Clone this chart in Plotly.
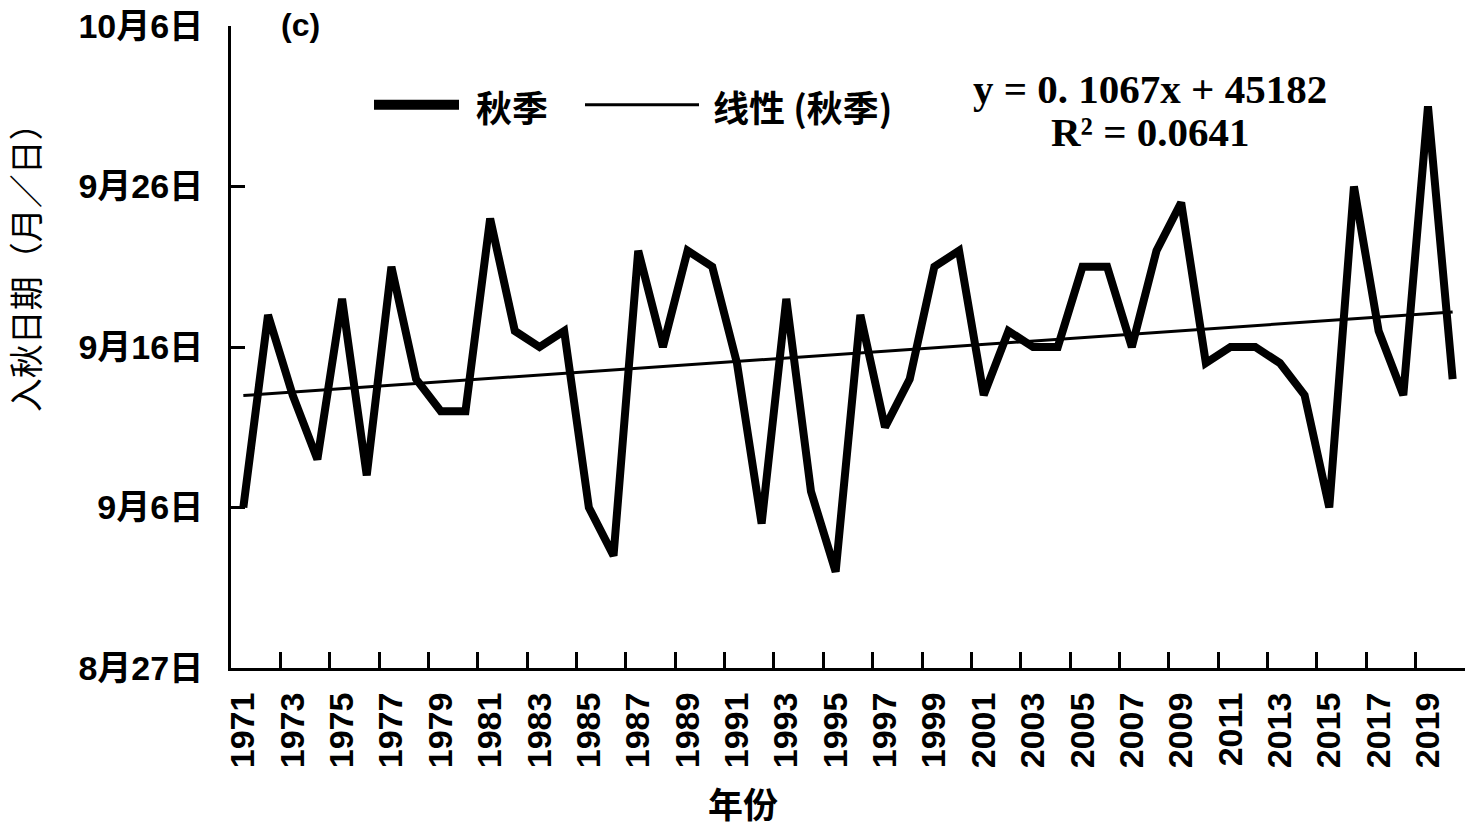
import numpy as np
import plotly.graph_objects as go

# autumn onset per year, as days after Aug 27 (10 = Sep 6, 20 = Sep 16 ...)
years = list(range(1971, 2021))
onset_days = [10, 22, 17, 13, 23, 12, 25, 18, 16, 16,
              28, 21, 20, 21, 10, 7, 26, 20, 26, 25,
              19, 9, 23, 11, 6, 22, 15, 18, 25, 26,
              17, 21, 20, 20, 25, 25, 20, 26, 29, 19,
              20, 20, 19, 17, 10, 30, 21, 17, 35, 18]

y_tickvals = [0, 10, 20, 30, 40]
y_ticktext = ["8月27日", "9月6日", "9月16日", "9月26日", "10月6日"]

eq_text = "y = 0. 1067x + 45182"
r2_text = "R² = 0.0641"

# linear trend of the series
coef = np.polyfit(years, onset_days, 1)
trend = np.polyval(coef, years)

W, H = 1472, 828
L, R, T, B = 231, 7, 24, 160


def px_x(x):
    return (x - L) / (W - L - R)


def px_y(y):
    return (H - B - y) / (H - T - B)


tick_font = dict(family="Liberation Sans, Noto Sans CJK SC", size=34, color="black", weight="bold")
cjk_bold = dict(family="Noto Sans CJK SC", size=36, color="black", weight="bold")
eq_font = dict(family="Liberation Serif", size=41, color="black", weight="bold")

fig = go.Figure()
fig.add_trace(go.Scatter(x=years, y=onset_days, mode="lines", name="秋季",
                         line=dict(color="black", width=8)))
fig.add_trace(go.Scatter(x=years, y=trend, mode="lines", name="线性 (秋季)",
                         line=dict(color="black", width=3), xaxis="x2"))

fig.update_layout(
    width=W, height=H,
    margin=dict(l=L, r=R, t=T, b=B),
    paper_bgcolor="white", plot_bgcolor="white",
    showlegend=False,
    xaxis=dict(range=[1970.5, 2020.5], tickvals=years[::2], ticks="",
               tickangle=-90, tickfont=tick_font, ticklabelstandoff=8,
               showline=True, linecolor="black", linewidth=3,
               showgrid=False, zeroline=False),
    xaxis2=dict(range=[1970.5, 2020.5], overlaying="x", side="bottom", anchor="y",
                tickvals=[1970.5 + 2 * i for i in range(26)], ticks="inside",
                ticklen=16, tickwidth=3, tickcolor="black",
                showticklabels=False, showline=False, showgrid=False, zeroline=False),
    yaxis=dict(range=[0, 40], tickvals=y_tickvals, ticktext=y_ticktext,
               ticks="inside", ticklen=14, tickwidth=3, tickcolor="black",
               tickfont=tick_font, ticklabelstandoff=18, ticklabeloverflow="allow",
               showline=True, linecolor="black", linewidth=3,
               showgrid=False, zeroline=False),
)

# hand-drawn legend, like the Excel one
legend_y = px_y(103)
fig.add_shape(type="line", xref="paper", yref="paper", x0=px_x(374), x1=px_x(459),
              y0=legend_y, y1=legend_y, line=dict(color="black", width=10))
fig.add_shape(type="line", xref="paper", yref="paper", x0=px_x(585), x1=px_x(699),
              y0=legend_y, y1=legend_y, line=dict(color="black", width=3))

annotations = [
    dict(text="秋季", x=px_x(474), y=px_y(104), xanchor="left", yanchor="middle", font=cjk_bold),
    dict(text="线性 (秋季)", x=px_x(711), y=px_y(104), xanchor="left", yanchor="middle", font=cjk_bold),
    dict(text=eq_text, x=px_x(1150), y=px_y(87), xanchor="center", yanchor="middle", font=eq_font),
    dict(text=r2_text, x=px_x(1150), y=px_y(130), xanchor="center", yanchor="middle", font=eq_font),
    dict(text="(c)", x=px_x(300), y=px_y(23), xanchor="center", yanchor="middle",
         font=dict(family="Liberation Sans", size=32, color="black", weight="bold")),
    dict(text="入秋日期（月／日）", x=px_x(24), y=px_y(258), xanchor="center", yanchor="middle",
         textangle=-90, font=dict(family="Noto Sans CJK SC", size=34, color="black")),
    dict(text="年份", x=px_x(743), y=px_y(803), xanchor="center", yanchor="middle",
         font=dict(family="Noto Sans CJK SC", size=35, color="black", weight="bold")),
]
for a in annotations:
    a.update(xref="paper", yref="paper", showarrow=False)
fig.update_layout(annotations=annotations)

# drop the default page margin so the figure fills the window exactly
fig.write_html("out.html", config={"displayModeBar": False},
               post_script="document.body.style.margin = '0';")
